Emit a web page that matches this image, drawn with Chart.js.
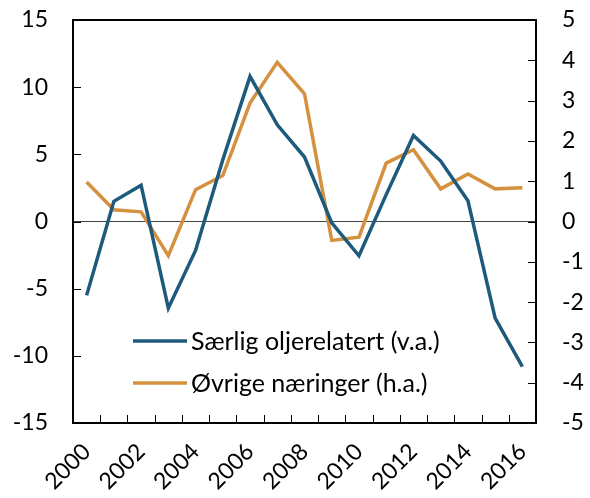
<!DOCTYPE html>
<html>
<head>
<meta charset="utf-8">
<script src="https://cdn.jsdelivr.net/npm/chart.js@4"></script>
<style>
    html, body { margin: 0; padding: 0; background: #fff; }
    #wrap { width: 590px; height: 498px; }
</style>
</head>
<body>
<div id="wrap"><canvas id="chart"></canvas></div>
<script>
// Data
const years = ['2000', '2001', '2002', '2003', '2004', '2005', '2006', '2007', '2008',
    '2009', '2010', '2011', '2012', '2013', '2014', '2015', '2016'];
const oilRelated = [-5.5, 1.5, 2.7, -6.45, -2.15, 4.6, 10.8, 7.2, 4.8,
    -0.1, -2.55, 2.0, 6.4, 4.5, 1.55, -7.2, -10.8];
const otherIndustries = [0.98, 0.29, 0.24, -0.85, 0.79, 1.14, 2.94, 3.95, 3.17,
    -0.47, -0.39, 1.45, 1.78, 0.81, 1.18, 0.81, 0.84];
const leftTicks = [-15, -10, -5, 0, 5, 10, 15];
const rightTicks = [-5, -4, -3, -2, -1, 0, 1, 2, 3, 4, 5];

const BLUE = '#1d5a7b';
const ORANGE = '#d4913f';
const FONT = "Lato, 'Open Sans', sans-serif";

// Frame, inside tick marks, zero line and in-plot legend
const framePlugin = {
    id: 'frame',
    beforeDatasetsDraw(chart) {
        const { ctx, chartArea: a, scales } = chart;
        ctx.save();
        // zero line
        const y0 = scales.y.getPixelForValue(0);
        ctx.strokeStyle = '#444';
        ctx.lineWidth = 1;
        ctx.beginPath();
        ctx.moveTo(a.left, y0);
        ctx.lineTo(a.right, y0);
        ctx.stroke();
        ctx.restore();
    },
    afterDraw(chart) {
        const { ctx, chartArea: a, scales } = chart;
        ctx.save();
        ctx.strokeStyle = '#000';
        ctx.lineWidth = 1;
        const tl = 8;
        ctx.beginPath();
        leftTicks.slice(1, -1).forEach((v) => {
            const y = Math.round(scales.y.getPixelForValue(v)) + 0.5;
            ctx.moveTo(a.left, y);
            ctx.lineTo(a.left + tl, y);
        });
        rightTicks.slice(1, -1).forEach((v) => {
            const y = Math.round(scales.y2.getPixelForValue(v)) + 0.5;
            ctx.moveTo(a.right, y);
            ctx.lineTo(a.right - tl, y);
        });
        for (let i = 1; i < years.length; i++) {
            const x = Math.round((scales.x.getPixelForValue(i - 1) + scales.x.getPixelForValue(i)) / 2) + 0.5;
            ctx.moveTo(x, a.bottom);
            ctx.lineTo(x, a.bottom - tl);
        }
        ctx.stroke();

        ctx.lineWidth = 2;
        ctx.strokeRect(a.left, a.top, a.right - a.left, a.bottom - a.top);

        // legend
        const items = chart.data.datasets.map((d) => ({ label: d.label, color: d.borderColor }));
        ctx.font = '25px ' + FONT;
        ctx.textBaseline = 'middle';
        ctx.fillStyle = '#000';
        items.forEach((it, i) => {
            const y = 341 + i * 42;
            ctx.strokeStyle = it.color;
            ctx.lineWidth = 3.5;
            ctx.beginPath();
            ctx.moveTo(133, y);
            ctx.lineTo(187, y);
            ctx.stroke();
            ctx.fillText(it.label, 191, y + 1);
        });
        ctx.restore();
    },
};

const noPad = (s) => {
    s.paddingTop = 0;
    s.paddingBottom = 0;
    s.paddingLeft = 0;
    s.paddingRight = 0;
};

new Chart(document.getElementById('chart'), {
    type: 'line',
    data: {
        labels: years,
        datasets: [
            {
                label: 'Særlig oljerelatert (v.a.)',
                data: oilRelated,
                borderColor: BLUE,
                backgroundColor: BLUE,
                borderWidth: 3.5,
                pointRadius: 0,
                tension: 0,
                yAxisID: 'y',
            },
            {
                label: 'Øvrige næringer (h.a.)',
                data: otherIndustries,
                borderColor: ORANGE,
                backgroundColor: ORANGE,
                borderWidth: 3.5,
                pointRadius: 0,
                tension: 0,
                yAxisID: 'y2',
            },
        ],
    },
    options: {
        responsive: true,
        maintainAspectRatio: false,
        animation: false,
        layout: { padding: { top: 20, left: 0, right: 0, bottom: 0 } },
        plugins: {
            legend: { display: false },
            tooltip: { enabled: false },
        },
        scales: {
            x: {
                offset: true,
                grid: { display: false, drawTicks: false },
                border: { display: false },
                ticks: {
                    autoSkip: false,
                    maxRotation: 45,
                    minRotation: 45,
                    padding: 15,
                    color: '#000',
                    font: { family: FONT, size: 23 },
                    callback: (v, i) => (i % 2 === 0 ? years[i] : ''),
                },
                afterFit: (s) => { s.height = 75; noPad(s); },
            },
            y: {
                position: 'left',
                min: -15,
                max: 15,
                grid: { display: false, drawTicks: false },
                border: { display: false },
                ticks: {
                    stepSize: 5,
                    padding: 25,
                    color: '#000',
                    font: { family: FONT, size: 23 },
                },
                afterFit: (s) => { s.width = 73; noPad(s); },
            },
            y2: {
                position: 'right',
                min: -5,
                max: 5,
                grid: { display: false, drawTicks: false },
                border: { display: false },
                ticks: {
                    stepSize: 1,
                    padding: 26,
                    color: '#000',
                    font: { family: FONT, size: 23 },
                },
                afterFit: (s) => { s.width = 54; noPad(s); },
            },
        },
    },
    plugins: [framePlugin],
});
</script>
</body>
</html>
